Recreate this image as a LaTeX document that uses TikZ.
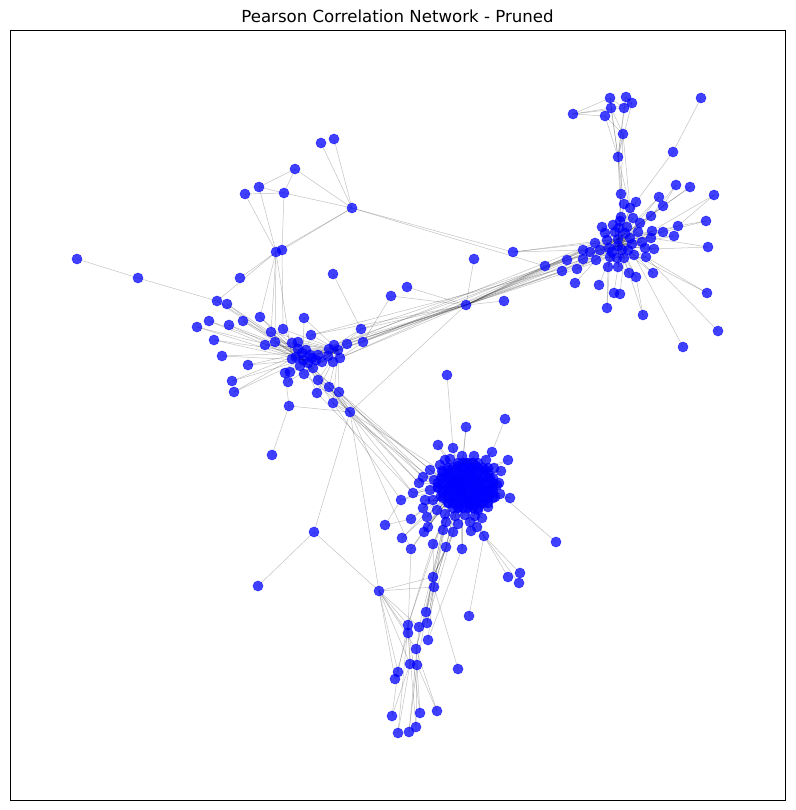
\documentclass[tikz,border=0pt]{standalone}
\usepackage{fontspec}
\newfontfamily\titlefont{DejaVu Sans}
\pgfdeclarelayer{edges}
\pgfsetlayers{edges,main}
\tikzset{
  dot/.style={circle,inner sep=0pt,minimum size=10.2pt,fill=blue,fill opacity=0.75,draw=blue,draw opacity=0.75,line width=0.3pt},
  edge/.style={draw=black,draw opacity=0.24,line width=0.5pt},
  frame/.style={draw=black,line width=0.8pt}
}
\begin{document}
\begin{tikzpicture}[x=1pt,y=-1pt]
\useasboundingbox (0,0) rectangle (795,810);
\node[font=\titlefont\fontsize{16.6}{19}\selectfont] (title) at (397.5,16) {Pearson Correlation Network - Pruned};
\node[frame,rectangle,minimum width=775pt,minimum height=770pt,inner sep=0pt] (box) at (397.5,415) {};
% top group
\foreach \n/\x/\y in {t1/573/114,t2/610/98,t3/626/97,t4/611/108,t5/624/108,t6/632/103,t7/605/116,t8/623/134,t9/618/157,t10/701/98,t11/673/152}
  \node[dot] (\n) at (\x,\y) {};
% upper right cluster
\foreach \n/\x/\y in {r1/621/194,r2/624/204,r3/630/208,r4/636/202,r5/659/197,r6/663/206,r7/676/185,r8/690/187,r9/714/195,r10/621/217,r11/651/216,r12/640/223,r13/678/226,r14/706/221,r15/602/227,r16/613/225,r17/619/228,r18/627/227,r19/652/231,r20/663/232,r21/674/236,r22/595/243,r23/607/240,r24/618/239,r25/630/238,r26/642/242,r27/651/238,r28/583/250,r29/609/248,r30/618/246,r31/632/244,r32/654/249,r33/708/247,r34/567/260,r35/583/259,r36/596/260,r37/610/257,r38/617/258,r39/624/258,r40/634/255,r41/646/257,r42/545/266,r43/562/271,r44/577/269,r45/608/267,r46/618/267,r47/629/273,r48/636/277,r49/653/273,r50/575/283,r51/599/285,r52/614/293,r53/620/294,r54/707/293,r55/607/308,r56/643/315,r57/683/347,r58/718/331,r59/513/252}
  \node[dot] (\n) at (\x,\y) {};
\foreach \n/\x/\y in {e1/615/232,e2/625/233,e3/605/233,e4/612/252,e5/622/250,e6/638/232,e7/600/250,e8/628/250,e9/645/248,e10/620/221,e11/633/218,e12/590/252}
  \node[dot] (\n) at (\x,\y) {};
\node[dot] (m) at (466,305) {};
% upper left cluster
\foreach \n/\x/\y in {l1/217/301,l2/227/304,l3/209/321,l4/197/327,l5/229/325,l6/243/321,l7/260/317,l8/304/318,l9/361/329,l10/214/340,l11/271/332,l12/283/329,l13/311/335,l14/265/345,l15/275/342,l16/292/343,l17/298/342,l18/347/344,l19/363/342,l20/222/356,l21/248/365,l22/292/359,l23/302/353,l24/303/360,l25/308/363,l26/316/360,l27/329/349,l28/338/350,l29/328/356,l30/340/358,l31/285/373,l32/290/372,l33/304/374,l34/313/368,l35/232/381,l36/234/392,l37/288/382,l38/318/380,l39/329/387,l40/339/392,l41/317/393,l42/333/403,l43/289/406,l44/350/412,l45/240/278,l46/276/252,l47/282/250,l48/245/194,l49/259/187,l50/284/193,l51/295/169,l52/321/143,l53/334/139,l54/352/208,l55/77/259,l56/138/278,l57/333/274,l58/407/287,l59/391/296,l60/272/455,l61/474/259,l62/504/301,l63/447/375}
  \node[dot] (\n) at (\x,\y) {};
\foreach \n/\x/\y in {f1/296/357,f2/300/366,f3/310/355,f4/318/355,f5/306/350,f6/322/362,f7/298/349,f8/334/345,f9/333/362,f10/312/358}
  \node[dot] (\n) at (\x,\y) {};
% central cluster outer
\foreach \n/\x/\y in {c1/466/427,c2/438/445,c3/453/448,c4/492/452,c5/508/460,c6/445/460,c7/442/471,c8/501/471,c9/499/483,c10/423/477,c11/419/483,c12/401/500,c13/510/498,c14/500/494,c15/413/493,c16/411/519,c17/385/525,c18/402/538,c19/411/549,c20/433/544,c21/446/547,c22/462/549,c23/484/536,c24/477/527,c25/471/531,c26/424/532,c27/428/527,c28/443/530,c29/453/532,c30/475/516,c31/427/517,c32/423/508,c33/505/419,c34/556/542,c35/508/577,c36/520/573,c37/519/583,c38/469/616}
  \node[dot] (\n) at (\x,\y) {};
% central dense core
\foreach \n/\x/\y in {b1/448/470,b2/458/466,b3/467/463,b4/476/466,b5/485/470,b6/490/478,b7/492/488,b8/488/497,b9/480/503,b10/470/506,b11/459/507,b12/449/503,b13/441/496,b14/438/487,b15/441/478,b16/452/478,b17/462/475,b18/472/476,b19/480/482,b20/482/491,b21/476/498,b22/466/500,b23/455/497,b24/448/490,b25/452/485,b26/460/485,b27/468/485,b28/474/489,b29/462/492,b30/456/480,b31/470/470,b32/464/496,b33/434/480,b34/430/490,b35/433/500,b36/437/510,b37/445/514,b38/455/516,b39/465/515,b40/478/510,b41/488/507,b42/495/497,b43/497/485,b44/494/468,b45/486/460,b46/474/456,b47/462/456,b48/450/459,b49/440/465,b50/446/522,b51/458/524,b52/470/522,b53/482/518,b54/425/500,b55/430/470}
  \node[dot] (\n) at (\x,\y) {};
\foreach \x in {438,443,...,498}
  \foreach \y in {458,463,...,513} {
    \pgfmathtruncatemacro\ins{(((\x-467)/30)^2+((\y-486)/26)^2)<1 ? 1 : 0}
    \ifnum\ins=1 \node[dot] (g-\x-\y) at (\x,\y) {}; \fi
  }
% bottom cluster
\foreach \n/\x/\y in {d1/379/591,d2/433/577,d3/434/587,d4/426/612,d5/427/623,d6/408/625,d7/408/633,d8/419/627,d9/428/640,d10/416/649,d11/410/664,d12/417/665,d13/398/672,d14/395/679,d15/458/669,d16/392/716,d17/420/713,d18/437/711,d19/398/733,d20/409/732,d21/416/727,d22/314/532,d23/258/586}
  \node[dot] (\n) at (\x,\y) {};

\begin{pgfonlayer}{edges}
% top group
\foreach \a/\b in {t1/t2,t1/t4,t1/t5,t1/t7,t2/t4,t2/t5,t3/t5,t3/t6,t4/t6,t5/t6,t2/t9,t4/t9,t5/t9,t6/t9,t3/t9,t7/t8,t7/t9,t4/t8,t8/t9,t9/r1,t9/r2,t9/r3,t8/r1,t8/r3,t9/r10,t10/t11,t11/r4}
  \draw[edge] (\a.center) -- (\b.center);
% right cluster core
\foreach \a in {r1,r2,r3,r4,r5,r6,r10,r11,r12,r13,r15,r16,r17,r18,r19,r20,r21,r22,r23,r25,r26,r27,r28,r29,r31,r32,r34,r35,r36,r37,r38,r39,r40,r41,r42,r43,r44,r45,r46,r47,r48,r49,e1,e2,e3,e4,e5,e6,e7,e8,e9,e10,e11,e12}
  {\draw[edge] (\a.center) -- (r24.center); \draw[edge] (\a.center) -- (r30.center);}
\foreach \a in {r15,r16,r22,r23,r28,r29,r35,r36,r44,r45,r12,r19,r26,r40,r41,r47}
  \draw[edge] (\a.center) -- (r37.center);
\foreach \a/\b in {r7/r6,r7/r11,r8/r6,r8/r12,r9/r13,r9/r19,r14/r20,r14/r13,r33/r32,r33/r27,r54/r41,r54/r40,r56/r47,r56/r48,r57/r40,r58/r41,r55/r45,r55/r37,r52/r46,r53/r39,r50/r36,r51/r37,r59/r28,r59/r22,r59/r23,r24/r30}
  \draw[edge] (\a.center) -- (\b.center);
% bridge through m
\foreach \a/\b in {m/r28,m/r34,m/r35,m/r42,m/r43,m/r44,m/r22,m/r36,m/r23,m/e12,m/l61,m/l62,m/l58,m/l59,m/l9,m/l18,m/l19,m/l27,m/l28,m/l30,m/l13,m/l44,m/f8,l54/r59,l54/r42,r42/l19,r34/l9,r43/l18,r35/l28,r28/l30,r22/l27,r36/l13,e12/f8}
  \draw[edge] (\a.center) -- (\b.center);
% left cluster
\foreach \a in {l1,l2,l3,l4,l5,l6,l7,l10,l20,l21,l35,l36}
  {\draw[edge] (\a.center) -- (l24.center); \draw[edge] (\a.center) -- (l23.center);}
\foreach \a in {l8,l11,l12,l13,l14,l15,l16,l17,l18,l22,l23,l25,l26,l27,l29,l30,l31,l32,l33,l34,l37,l38,l39,l40,l41,l42,f1,f2,f3,f4,f5,f6,f7,f8,f9,f10}
  {\draw[edge] (\a.center) -- (l24.center); \draw[edge] (\a.center) -- (l28.center);}
\foreach \a/\b in {l9/l28,l9/l27,l19/l28,l19/l30,l45/l46,l1/l46,l7/l46,l11/l46,l12/l47,l15/l46,l22/l46,l47/l54,l46/l54,l48/l46,l49/l46,l50/l47,l48/l50,l49/l50,l49/l51,l50/l51,l51/l54,l52/l54,l53/l54,l50/l54,l55/l56,l56/l1,l57/l9,l59/l19,l63/c3,l43/l44,l43/l60,l43/l31,l44/l39,l44/l42,l44/l40,l44/l33,l44/l24}
  \draw[edge] (\a.center) -- (\b.center);
% left to central
\foreach \a/\b in {l39/c11,l40/c10,l42/c12,l41/c15,l38/c11,l44/c10,l44/c7,l42/b33,l40/b55,l39/c15,l44/c19,l34/b14,l38/b15}
  \draw[edge] (\a.center) -- (\b.center);
% central
\foreach \a in {b1,b2,b3,b4,b5,b6,b7,b8,b9,b10,b11,b12,b13,b14,b15,b16,b17,b18,b19,b20,b21,b22,b23,b24,b25,b27,b28,b29,b30,b31,b32,b33,b34,b35,b36,b37,b38,b39,b40,b41,b42,b43,b44,b45,b46,b47,b48,b49,b50,b51,b52,b53,b54,b55}
  {\draw[edge] (\a.center) -- (b26.center); \draw[edge] (\a.center) -- (b22.center);}
\foreach \a in {c1,c2,c3,c4,c5,c6,c7,c8,c9,c10,c11,c12,c13,c14,c15,c16,c18,c19,c20,c21,c22,c23,c24,c25,c26,c27,c28,c29,c30,c31,c32}
  {\draw[edge] (\a.center) -- (b26.center); \draw[edge] (\a.center) -- (b17.center);}
\foreach \a/\b in {c33/c4,c34/c14,c35/c23,c36/c23,c37/c24,c38/c23,c17/c16,c17/c12}
  \draw[edge] (\a.center) -- (\b.center);
% bottom
\foreach \a/\b in {d22/d1,d22/d23,d22/l44,l44/d1,d1/d2,d1/d3,d1/d6,d1/d7,d1/d8,d1/d10,d1/d11,d1/d13,d1/d14,d2/b50,d2/b51,d2/c21,d2/c29,d3/b38,d3/c20,d3/c28,d4/c21,d4/b37,d5/c29,d5/b50,d6/c20,d6/b37,d7/c19,d8/c28,d9/c22,d9/d3,d10/d2,d10/d4,d11/d6,d12/d2,d13/d6,d14/d7,d15/d3,d16/d11,d16/d13,d17/d10,d17/d6,d18/d12,d18/d10,d19/d11,d19/d6,d20/d12,d20/d8,d21/d12,d21/d7,d2/d3,d2/d4,d3/d5}
  \draw[edge] (\a.center) -- (\b.center);
\end{pgfonlayer}
\end{tikzpicture}
\end{document}
